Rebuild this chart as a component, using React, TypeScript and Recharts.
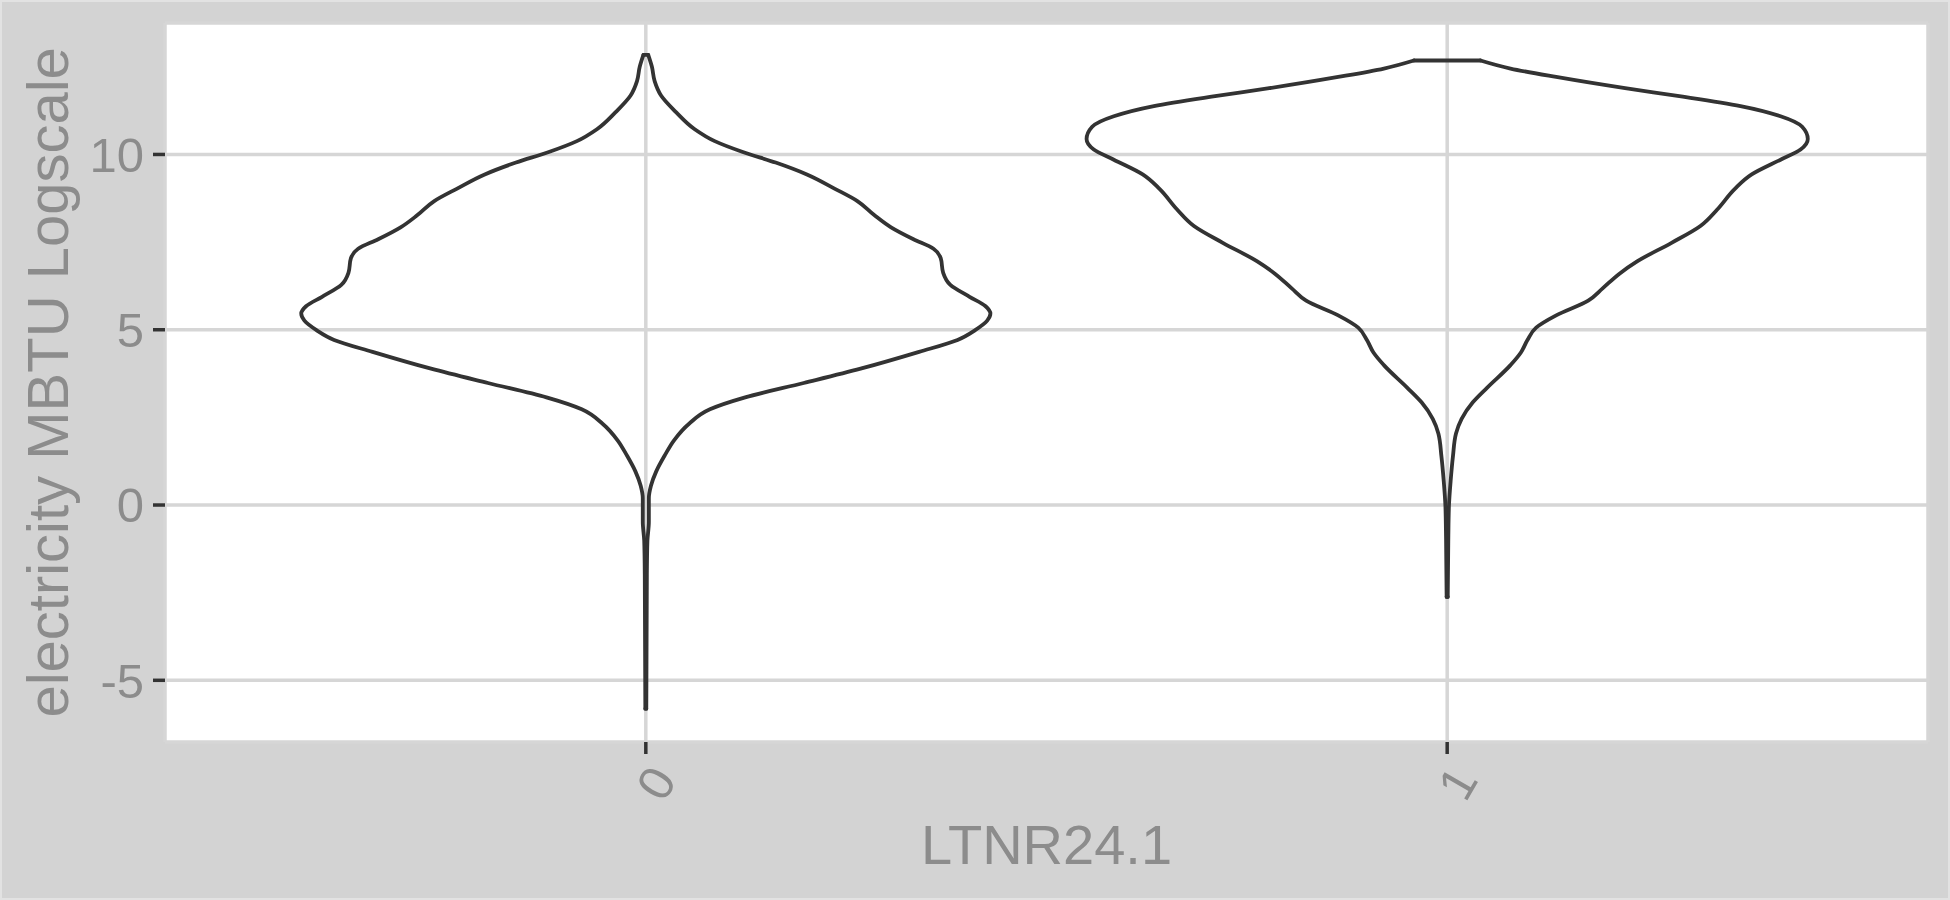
import { ComposedChart, Line, XAxis, YAxis, CartesianGrid, Label } from "recharts";

const categories = ["0", "1"];
const yTicks = [-5, 0, 5, 10];

// violin outlines: value on the y axis, half width in category units
const violin0Values = [
  12.84, 12.5, 12.09, 11.68, 11.2, 10.72, 10.38, 10.07, 9.77, 9.43, 9.02, 8.67, 8.27, 7.92,
  7.58, 7.31, 7.04, 6.63, 6.28, 5.94, 5.67, 5.46, 5.26, 4.99, 4.71, 4.37, 3.89, 3.48, 3.07,
  2.73, 2.32, 1.84, 1.43, 0.96, 0.55, 0.2, -0.48, -1.02, -1.98, -5.81,
];
const violin0Widths = [
  0.003, 0.0076, 0.011, 0.019, 0.038, 0.061, 0.086, 0.121, 0.162, 0.201, 0.236, 0.264, 0.285,
  0.306, 0.334, 0.359, 0.368, 0.371, 0.38, 0.404, 0.424, 0.43, 0.426, 0.411, 0.389, 0.341,
  0.268, 0.197, 0.124, 0.08, 0.054, 0.035, 0.024, 0.013, 0.0064, 0.0038, 0.0038, 0.002,
  0.0013, 0.0006,
];

const violin1Values = [
  12.68, 12.45, 12.21, 11.89, 11.65, 11.38, 11.09, 10.79, 10.44, 10.14, 9.85, 9.43, 9.02, 8.43,
  7.96, 7.48, 6.95, 6.6, 6.18, 5.83, 5.41, 5.06, 4.7, 4.35, 3.99, 3.35, 2.93, 2.46, 2.04, 1.39,
  0.68, -0.03, -0.97, -2.62,
];
const violin1Widths = [
  0.0416, 0.079, 0.136, 0.222, 0.294, 0.366, 0.416, 0.443, 0.45, 0.441, 0.416, 0.38, 0.359,
  0.337, 0.316, 0.28, 0.237, 0.215, 0.194, 0.176, 0.136, 0.111, 0.1, 0.092, 0.079, 0.05, 0.032,
  0.018, 0.011, 0.0072, 0.0043, 0.0022, 0.0014, 0.0007,
];

const violins = [
  { center: 0, values: violin0Values, widths: violin0Widths },
  { center: 1, values: violin1Values, widths: violin1Widths },
];

const TEXT = "#8c8c8c";
const INK = "#333333";
const FONT = "'Liberation Sans', Arial, Helvetica, sans-serif";

const XTick = ({ x, payload }: any) => (
  <g transform={`translate(${x + 10},783) rotate(-60)`}>
    <text textAnchor="middle" dy="0.355em" fill={TEXT} fontSize={49} fontFamily={FONT}>
      {categories[payload.value]}
    </text>
  </g>
);

export default function App() {
  const lines: any[] = [];
  violins.forEach((v, k) => {
    const right = v.values.map((y, i) => ({ x: v.center + v.widths[i], y }));
    const left = v.values.map((y, i) => ({ x: v.center - v.widths[i], y }));
    const n = v.values.length - 1;
    lines.push({ id: `r${k}`, data: right, type: "monotoneY" });
    lines.push({ id: `l${k}`, data: left, type: "monotoneY" });
    lines.push({ id: `t${k}`, data: [left[0], right[0]], type: "linear" });
    lines.push({ id: `b${k}`, data: [left[n], right[n]], type: "linear" });
  });

  return (
    <div style={{ position: "absolute", left: 0, top: 0, width: 1950, height: 900, background: "#d3d3d3" }}>
      <ComposedChart width={1950} height={900} margin={{ top: 23, right: 22, bottom: 0, left: 0 }}>
        <CartesianGrid stroke="#d6d6d6" strokeWidth={3.5} fill="#ffffff" fillOpacity={1} />
        <XAxis
          type="number"
          dataKey="x"
          domain={[-0.6, 1.6]}
          ticks={[0, 1]}
          interval={0}
          allowDataOverflow
          height={158}
          axisLine={false}
          tickSize={12}
          tickLine={{ stroke: INK, strokeWidth: 3.5 }}
          tick={<XTick />}
        >
          <Label
            value="LTNR24.1"
            position="insideBottom"
            offset={36}
            fill={TEXT}
            fontSize={56}
            fontFamily={FONT}
          />
        </XAxis>
        <YAxis
          type="number"
          dataKey="y"
          domain={[-6.76, 13.75]}
          ticks={yTicks}
          interval={0}
          allowDataOverflow
          width={165}
          axisLine={false}
          tickSize={12}
          tickMargin={9}
          tickLine={{ stroke: INK, strokeWidth: 3.5 }}
          tick={{ fill: TEXT, fontSize: 49, fontFamily: FONT }}
        >
          <Label
            content={() => (
              <text
                transform="translate(68,382.4) rotate(-90)"
                textAnchor="middle"
                fill={TEXT}
                fontSize={58}
                fontFamily={FONT}
              >
                electricity MBTU Logscale
              </text>
            )}
          />
        </YAxis>
        {lines.map((l) => (
          <Line
            key={l.id}
            data={l.data}
            dataKey="y"
            type={l.type}
            stroke={INK}
            strokeWidth={3.8}
            strokeLinecap="round"
            strokeLinejoin="round"
            dot={false}
            activeDot={false}
            legendType="none"
            isAnimationActive={false}
          />
        ))}
      </ComposedChart>
      <div
        style={{
          position: "absolute",
          inset: 0,
          border: "2px solid #e2e2e2",
          boxSizing: "border-box",
          pointerEvents: "none",
        }}
      />
    </div>
  );
}
